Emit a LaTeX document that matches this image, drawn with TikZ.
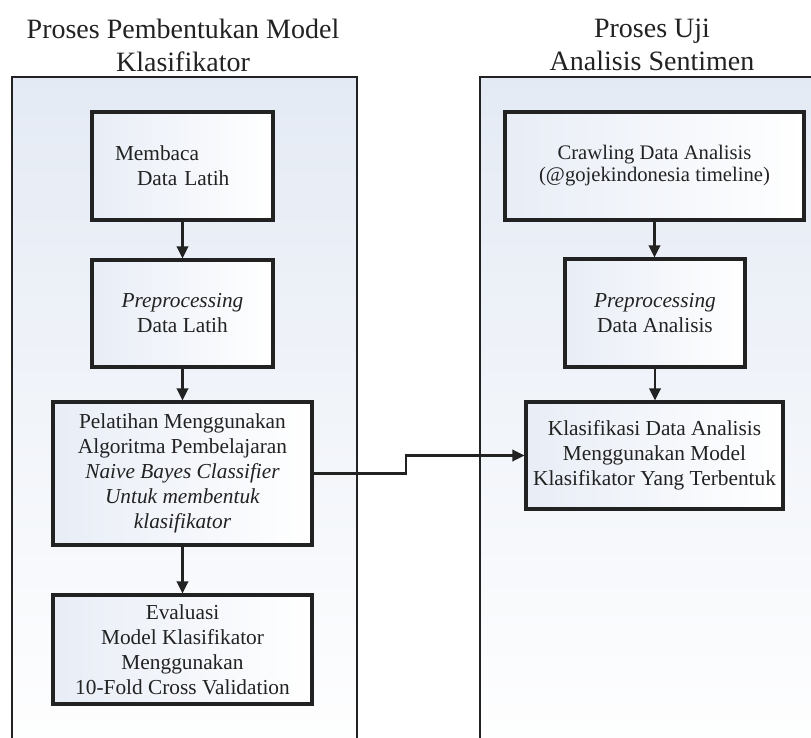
\documentclass[tikz,border=0pt]{standalone}
\usepackage{fontspec}
\setmainfont{Liberation Serif}
\usetikzlibrary{arrows.meta,calc}
\definecolor{panelblue}{HTML}{E4EAF4}
\definecolor{boxblue}{HTML}{E8EDF6}
\definecolor{ink}{HTML}{222222}
\tikzset{
  panel/.style={draw=ink,line width=1.5pt,top color=panelblue,bottom color=white},
  procbox/.style={draw=ink,line width=2.3pt,left color=boxblue,right color=white,
    align=center,text=ink,inner sep=0pt,font=\fontsize{16}{18.8}\selectfont},
  flow/.style={draw=ink,line width=1.8pt,-{Triangle[length=9pt,width=8.5pt]}},
  title/.style={align=center,text=ink,font=\fontsize{21}{24.8}\selectfont}
}

\begin{document}
\begin{tikzpicture}[x=0.75pt,y=-0.75pt]
            \useasboundingbox (0,0) rectangle (811,738);
            \clip (0,0) rectangle (811,738);
            \fill[white] (0,0) rectangle (811,738);

            % the two process panels
            \draw[panel] (12,77) rectangle (357,770);
            \draw[panel] (480,77) rectangle (840,770);

            \node[title] (tleft) at (183,45) {Proses Pembentukan Model\\Klasifikator};
            \node[title] (tright) at (652,45) {Proses Uji\\Analisis Sentimen};

            % left column
            \node[procbox,minimum height=81pt,text width=101.25pt,inner xsep=17.25pt,align=left] (baca) at (182.5,166) {Membaca\\\hspace*{16.5pt}Data Latih};
            \node[procbox,minimum width=135.75pt,minimum height=80.25pt] (prelatih) at (182.5,313.5) {\textit{Preprocessing}\\Data Latih};
            \node[procbox,minimum width=194.25pt,minimum height=107.25pt] (latih) at (182.5,473.5) {Pelatihan Menggunakan\\Algoritma Pembelajaran\\\textit{Naive Bayes Classifier}\\\textit{Untuk membentuk}\\\textit{klasifikator}};
            \node[procbox,minimum width=194.25pt,minimum height=81.75pt] (eval) at (182.5,649.5) {Evaluasi\\Model Klasifikator\\Menggunakan\\10-Fold Cross Validation};

            % right column
            \node[procbox,minimum width=224.25pt,minimum height=81pt,font=\fontsize{15.5}{16.5}\selectfont] (crawl) at (654.5,166) {Crawling Data Analisis\\(@gojekindonesia timeline)};
            \node[procbox,minimum width=135pt,minimum height=81pt] (preuji) at (655,313) {\textit{Preprocessing}\\Data Analisis};
            \node[procbox,minimum width=192.75pt,minimum height=80.25pt] (klas) at (654.5,455.5) {Klasifikasi Data Analisis\\Menggunakan Model\\Klasifikator Yang Terbentuk};

            \draw[flow] (baca) -- (prelatih);
            \draw[flow] (prelatih) -- (latih);
            \draw[flow] (latih) -- (eval);
            \draw[flow] (crawl.south) -- (crawl.south |- preuji.north);
            \draw[flow] (preuji.south) -- (preuji.south |- klas.north);

            \coordinate (jog) at (406,0);
            \draw[flow] (latih.east) -- (latih.east -| jog) -- (jog |- klas.west) -- (klas.west);
        \end{tikzpicture}
\end{document}
